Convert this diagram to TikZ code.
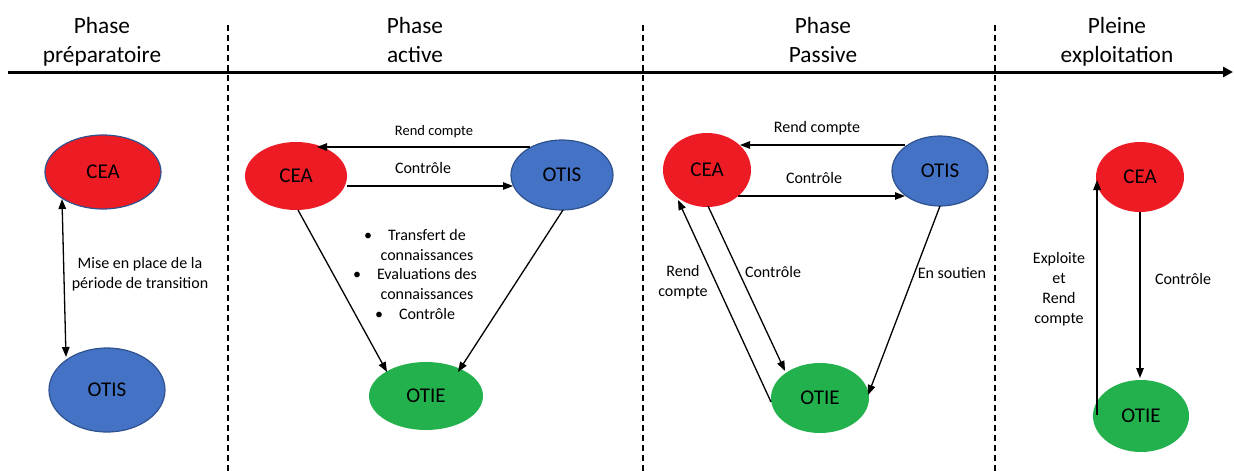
\documentclass[tikz,border=0pt]{standalone}
\usepackage{fontspec}
\setmainfont{Carlito}
\usetikzlibrary{arrows.meta,calc,shapes.geometric}
\definecolor{cred}{HTML}{ED1C24}
\definecolor{cblue}{HTML}{4472C4}
\definecolor{cblueline}{HTML}{2F528F}
\definecolor{cgreen}{HTML}{22B14C}
\tikzset{
  ent/.style={ellipse, inner sep=0pt, font=\fontsize{21}{25}\selectfont},
  redent/.style={ent, fill=cred},
  blueent/.style={ent, fill=cblue, draw=cblueline, line width=1.2pt},
  greenent/.style={ent, fill=cgreen},
  hdr/.style={align=center, font=\fontsize{23.3}{29}\selectfont},
  lbl/.style={align=center, inner sep=0pt, font=\fontsize{16}{20}\selectfont},
  smalllbl/.style={align=center, inner sep=0pt, font=\fontsize{14.5}{18}\selectfont},
  arr/.style={line width=1.3pt, -{Triangle[length=10pt,width=7.5pt]}},
  dbl/.style={line width=1.3pt, {Triangle[length=10pt,width=7.5pt]}-{Triangle[length=10pt,width=7.5pt]}},
  sep/.style={line width=1.2pt, dash pattern=on 6pt off 4pt},
  axis/.style={line width=3pt, -{Triangle[length=10pt,width=10pt]}}
}
\begin{document}
\begin{tikzpicture}[x=1pt,y=-1pt]
\useasboundingbox (0,0) rectangle (1234,471);
% headers
\node[hdr] (h1) at (102,41.7) {\strut Phase\\\strut préparatoire};
\node[hdr] (h2) at (415,41.7) {\strut Phase\\\strut active};
\node[hdr] (h3) at (823,41.7) {\strut Phase\\\strut Passive};
\node[hdr] (h4) at (1117,41.7) {\strut Pleine\\\strut exploitation};
% axis
\coordinate (axs) at (8,72);
\coordinate (axe) at (1233,72);
\draw[axis] (axs) -- (axe);
% separators
\foreach \x/\n in {228/a,643/b,995/c}{
  \coordinate (t\n) at (\x,25);
  \coordinate (b\n) at (\x,471);
  \draw[sep] (t\n) -- (b\n);
}
% Phase 1
\node[redent, draw=cblueline, line width=1.2pt, minimum width=116pt, minimum height=74pt] (cea1) at (103,172) {CEA};
\node[blueent, minimum width=116pt, minimum height=84pt] (otis1) at (107,390) {OTIS};
\draw[dbl] ($(cea1.center)+(-41,27)$) -- ($(otis1.center)+(-41,-33)$);
\node[lbl] (l1) at (140,274) {\strut Mise en place de la\\\strut période de transition};
% Phase 2
\node[redent, minimum width=102pt, minimum height=68pt] (cea2) at (296,176) {CEA};
\node[blueent, minimum width=102pt, minimum height=70pt] (otis2) at (562,175) {OTIS};
\node[greenent, minimum width=114pt, minimum height=68pt] (otie2) at (426,396) {OTIE};
\draw[arr] ($(otis2.center)+(-32,-28)$) -- ($(cea2.center)+(21,-29)$);
\node[smalllbl] (l2a) at (434,132) {\strut Rend compte};
\draw[arr] ($(cea2.center)+(51,10)$) -- ($(otis2.center)+(-49,11)$);
\node[lbl] (l2b) at (423,169) {\strut Contrôle};
\draw[arr] ($(cea2.center)+(2,34)$) -- ($(otie2.center)+(-39,-24)$);
\draw[arr] ($(otis2.center)+(1,35)$) -- ($(otie2.center)+(32,-24)$);
\node[align=center, inner sep=0pt, font=\fontsize{16}{19.7}\selectfont] (l2c) at (427,276)
  {\strut\llap{\textbullet\hspace{16pt}}Transfert de\\\strut connaissances\\
   \strut\llap{\textbullet\hspace{16pt}}Evaluations des\\\strut connaissances\\
   \strut\llap{\textbullet\hspace{16pt}}Contrôle};
% Phase 3
\node[redent, minimum width=88pt, minimum height=74pt] (cea3) at (707,170) {CEA};
\node[blueent, minimum width=96pt, minimum height=70pt] (otis3) at (940,171) {OTIS};
\node[greenent, minimum width=98pt, minimum height=70pt] (otie3) at (820,398) {OTIE};
\draw[arr] ($(otis3.center)+(-35,-26)$) -- ($(cea3.center)+(33,-25)$);
\node[lbl] (l3a) at (817,128) {\strut Rend compte};
\draw[arr] ($(cea3.center)+(31,26)$) -- ($(otis3.center)+(-35,25)$);
\node[lbl] (l3b) at (814,179) {\strut Contrôle};
\draw[arr] ($(cea3.center)+(1,36)$) -- ($(otie3.center)+(-35,-27)$);
\node[lbl] (l3c) at (773,273) {\strut Contrôle};
\draw[arr] ($(otie3.center)+(-49,4)$) -- ($(cea3.center)+(-29,30)$);
\node[lbl] (l3d) at (683,282) {\strut Rend\\\strut compte};
\draw[arr] ($(otis3.center)+(0,35)$) -- ($(otie3.center)+(48,-3)$);
\node[lbl] (l3e) at (952,274) {\strut En soutien};
% Phase 4
\node[redent, minimum width=88pt, minimum height=70pt] (cea4) at (1140,177) {CEA};
\node[greenent, minimum width=96pt, minimum height=72pt] (otie4) at (1141,416) {OTIE};
\draw[arr] ($(otie4.center)+(-44,-1)$) -- ($(cea4.center)+(-43,3)$);
\node[lbl] (l4a) at (1059,289) {\strut Exploite\\\strut et\\\strut Rend\\\strut compte};
\draw[arr] ($(cea4.center)+(0,35)$) -- ($(otie4.center)+(-1,-38)$);
\node[lbl] (l4b) at (1183,280) {\strut Contrôle};
\end{tikzpicture}
\end{document}
